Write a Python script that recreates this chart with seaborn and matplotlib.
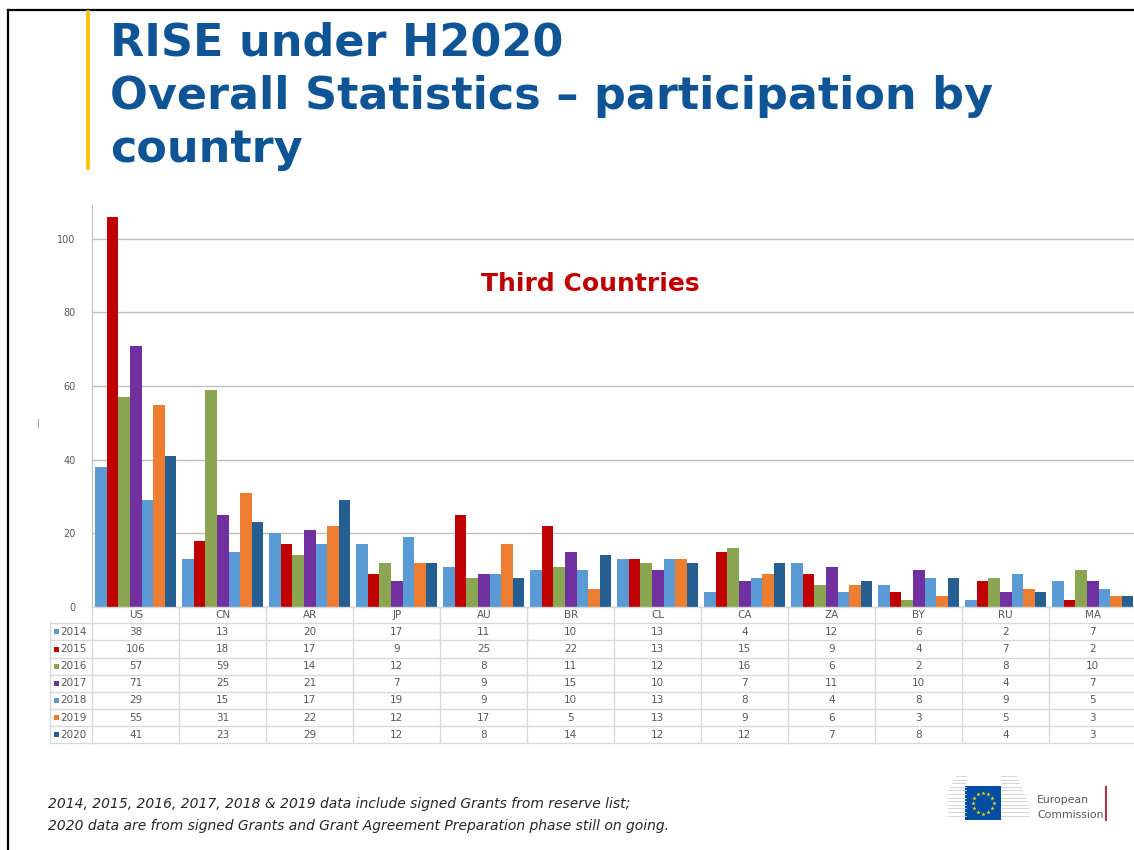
import numpy as np
import pandas as pd
import matplotlib
matplotlib.use("Agg")
import matplotlib.pyplot as plt
from matplotlib.lines import Line2D
from matplotlib.patches import Rectangle
import seaborn as sns

# Participation by third country and call year
countries = ["US", "CN", "AR", "JP", "AU", "BR", "CL", "CA", "ZA", "BY", "RU", "MA"]
years = ["2014", "2015", "2016", "2017", "2018", "2019", "2020"]
v2014 = [38, 13, 20, 17, 11, 10, 13, 4, 12, 6, 2, 7]
v2015 = [106, 18, 17, 9, 25, 22, 13, 15, 9, 4, 7, 2]
v2016 = [57, 59, 14, 12, 8, 11, 12, 16, 6, 2, 8, 10]
v2017 = [71, 25, 21, 7, 9, 15, 10, 7, 11, 10, 4, 7]
v2018 = [29, 15, 17, 19, 9, 10, 13, 8, 4, 8, 9, 5]
v2019 = [55, 31, 22, 12, 17, 5, 13, 9, 6, 3, 5, 3]
v2020 = [41, 23, 29, 12, 8, 14, 12, 12, 7, 8, 4, 3]
series = [v2014, v2015, v2016, v2017, v2018, v2019, v2020]
year_colors = ["#5B9BD5", "#C00000", "#8BA650", "#7030A0", "#5B9BD5", "#ED7D31", "#255E91"]
y_ticks = [0, 20, 40, 60, 80, 100]

df = pd.DataFrame(
    [(c, y, v) for y, vals in zip(years, series) for c, v in zip(countries, vals)],
    columns=["country", "year", "value"],
)

W, H = 1134, 850
fig = plt.figure(figsize=(W / 100, H / 100), dpi=100)
fig.patch.set_facecolor("white")


def fx(x):
    return x / W


def fy(y):
    return 1 - y / H


def hline(x0, x1, y, color, lw=1.0):
    fig.add_artist(Line2D([fx(x0), fx(x1)], [fy(y), fy(y)], color=color, lw=lw))


def vline(x, y0, y1, color, lw=1.0):
    fig.add_artist(Line2D([fx(x), fx(x)], [fy(y0), fy(y1)], color=color, lw=lw))


# slide frame and accent bar
vline(8, 10, 850, "black", 1.6)
hline(8, 1134, 10, "black", 1.6)
vline(88, 12, 168, "#FFC000", 2.6)

title_color = "#0F5596"
title_lines = ["RISE under H2020", "Overall Statistics \u2013 participation by", "country"]
for i, line in enumerate(title_lines):
    fig.text(fx(110), fy(56 + 53 * i), line, fontsize=32, fontweight="bold",
             color=title_color, va="baseline", ha="left", family="DejaVu Sans")

# chart area
col_w = 87.0
x_left = 92.3
x_right = x_left + col_w * len(countries)
y_zero, y_top = 607, 205
ymax = 109.2

ax = fig.add_axes([fx(x_left), fy(y_zero), fx(x_right) - fx(x_left), fy(y_top) - fy(y_zero)])
sns.barplot(data=df, x="country", y="value", hue="year", order=countries, hue_order=years,
            palette=year_colors, saturation=1, width=0.93, gap=0, legend=False, ax=ax)
ax.set_xlim(-0.5, len(countries) - 0.5)
ax.set_ylim(0, ymax)
ax.set_yticks(y_ticks)
ax.set_yticklabels([str(t) for t in y_ticks])
ax.set_xticks([])
ax.set_xlabel("")
ax.set_ylabel("")
ax.set_facecolor("white")
ax.yaxis.grid(True, color="#BFBFBF", lw=1)
ax.set_axisbelow(True)
for s in ["top", "right", "bottom"]:
    ax.spines[s].set_visible(False)
ax.spines["left"].set_color("#BFBFBF")
ax.tick_params(axis="y", length=0, pad=12, labelsize=7, labelcolor="#595959")

fig.text(fx(590), fy(284), "Third Countries", ha="center", va="center",
         fontsize=18, fontweight="bold", color="#C00000")

# small mark left of the value axis
vline(38, 419, 427, "#A6A6A6", 0.8)

# data table under the bars
grid_c = "#D9D9D9"
txt_c = "#595959"
header_bottom = 623.3
row_h = 17.15
table_bottom = header_bottom + row_h * len(years)
label_left = 50

hline(x_left, x_right, y_zero, grid_c)
for r in range(len(years) + 1):
    hline(label_left, x_right, header_bottom + r * row_h, grid_c)
vline(label_left, header_bottom, table_bottom, grid_c)
for i in range(len(countries) + 1):
    vline(x_left + i * col_w, y_zero, table_bottom, grid_c)

for i, c in enumerate(countries):
    fig.text(fx(x_left + (i + 0.5) * col_w), fy((y_zero + header_bottom) / 2), c,
             ha="center", va="center", fontsize=7.5, color=txt_c)

for r, (yr, vals, col) in enumerate(zip(years, series, year_colors)):
    yc = header_bottom + (r + 0.5) * row_h
    fig.add_artist(Rectangle((fx(54), fy(yc + 2.5)), fx(5), 5 / H, color=col, lw=0))
    fig.text(fx(60), fy(yc), yr, ha="left", va="center", fontsize=7.5, color=txt_c)
    for i, v in enumerate(vals):
        fig.text(fx(x_left + (i + 0.5) * col_w), fy(yc), str(v),
                 ha="center", va="center", fontsize=7.5, color=txt_c)

# footnote
fig.text(fx(48), fy(808), "2014, 2015, 2016, 2017, 2018 & 2019 data include signed Grants from reserve list;",
         fontsize=10, style="italic", color="#262626", va="baseline")
fig.text(fx(48), fy(830), "2020 data are from signed Grants and Grant Agreement Preparation phase still on going.",
         fontsize=10, style="italic", color="#262626", va="baseline")

# European Commission logo
for k in range(12):
    yy = 776 + k * 3.6
    x0 = 948 + max(0, 8 - k * 2)
    hline(x0, 966, yy, "#D0D0D0", 0.6)
    hline(1001, 1028 - max(0, 8 - k) * 1.5, yy, "#D0D0D0", 0.6)
fig.add_artist(Rectangle((fx(965), fy(820)), fx(36), 34 / H, color="#034EA2", lw=0))
cx, cy, rad = 983, 803, 10.5
ang = np.deg2rad(np.arange(0, 360, 30))
fig.add_artist(Line2D([fx(cx + rad * np.cos(a)) for a in ang],
                      [fy(cy + rad * np.sin(a)) for a in ang],
                      ls="none", marker="*", ms=3.2, color="#FFDD00", mew=0))
fig.text(fx(1037), fy(800), "European", fontsize=7.8, color="#595959", va="center", ha="left")
fig.text(fx(1037), fy(815), "Commission", fontsize=7.8, color="#595959", va="center", ha="left")
vline(1106, 787, 820, "#B5304A", 1.5)

fig.savefig("out.png", dpi=100, facecolor="white")
